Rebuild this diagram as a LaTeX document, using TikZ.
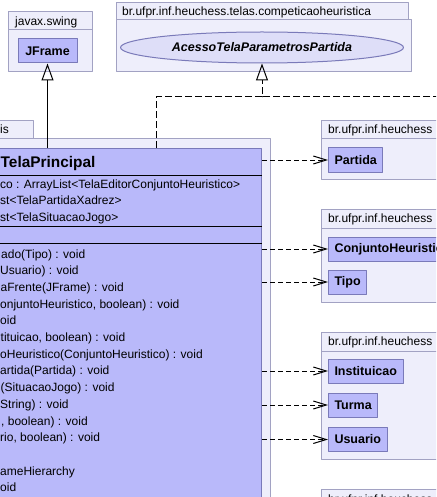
\documentclass[tikz,border=0pt]{standalone}
\usepackage{fontspec}
\setmainfont{Liberation Sans}
\usetikzlibrary{arrows.meta,shapes.geometric,positioning}
\definecolor{clsfill}{RGB}{185,185,250}
\definecolor{clsline}{RGB}{122,122,185}
\definecolor{pkgfill}{RGB}{238,238,251}
\definecolor{pkgline}{RGB}{162,162,195}
\definecolor{ifcfill}{RGB}{222,222,248}
\begin{document}
\begin{tikzpicture}[x=1pt, y=-1pt, line join=round, >={Straight Barb[length=13pt,width=8pt]},
    pkg/.style={draw=pkgline, fill=pkgfill, line width=1pt},
    pkgname/.style={anchor=base west, inner sep=0pt, font=\fontsize{12}{14}\selectfont},
    cls/.style={draw=clsline, fill=clsfill, line width=1pt, anchor=west, minimum height=24pt, inner xsep=6pt, font=\fontsize{12.5}{14}\selectfont\bfseries},
    membro/.style={anchor=base west, inner sep=0pt, font=\fontsize{12}{14}\selectfont},
    dep/.style={->, dash pattern=on 5pt off 3pt, line width=1pt},
    realiz/.style={-{Triangle[open,length=17pt,width=12pt]}, dash pattern=on 7pt off 3pt, line width=1pt},
    heranca/.style={-{Triangle[open,length=17pt,width=12pt]}, line width=1pt}]
    \useasboundingbox (0,0) rectangle (436,497);
    \clip (0,0) rectangle (436,497);
    \fill[white] (0,0) rectangle (436,497);
    % pacotes
    \draw[pkg] (8,12) rectangle (92,30) (8,30) rectangle (92,72);
    \node[pkgname] (swing) at (15,26) {javax.swing};
    \draw[pkg] (116,3) rectangle (408,20) (116,20) rectangle (411,72);
    \node[pkgname] (competicao) at (122,16) {br.ufpr.inf.heuchess.telas.competicaoheuristica};
    \draw[pkg] (-5,121) rectangle (33,139) (-5,139) rectangle (270,510);
    \node[pkgname] (principal) at (0,134) {is};
    \draw[pkg] (321,121) rectangle (445,139) (321,139) rectangle (445,179);
    \node[pkgname] (pkgpartida) at (328,134) {br.ufpr.inf.heuchess};
    \draw[pkg] (321,209) rectangle (445,228) (321,228) rectangle (445,302);
    \node[pkgname] (pkgheur) at (328,222) {br.ufpr.inf.heuchess};
    \draw[pkg] (321,332) rectangle (445,351) (321,351) rectangle (445,459);
    \node[pkgname] (pkgusu) at (328,345) {br.ufpr.inf.heuchess};
    \draw[pkg] (321,489) rectangle (445,507);
    \node[pkgname] (pkgmais) at (328,503) {br.ufpr.inf.heuchess};
    % classes
    \node[cls, anchor=center, minimum width=59pt] (jframe) at (47.5,51) {JFrame};
    \node[ellipse, draw=clsline, fill=ifcfill, line width=1pt, inner sep=0pt, minimum width=283pt, minimum height=31pt,
        font=\fontsize{12.5}{14}\selectfont\bfseries\itshape] (acesso) at (262,47.5) {AcessoTelaParametrosPartida};
    \node[cls] (partida) at (328,160) {Partida};
    \node[cls] (conjunto) at (328,249) {ConjuntoHeuristico};
    \node[cls] (tipo) at (328,282) {Tipo};
    \node[cls] (instituicao) at (328,371) {Instituicao};
    \node[cls] (turma) at (328,405) {Turma};
    \node[cls] (usuario) at (328,439.5) {Usuario};
    % TelaPrincipal
    \node[draw=clsline, fill=clsfill, line width=1pt, minimum width=272pt, minimum height=370pt, anchor=north east] (tela) at (262,148) {};
    \draw[line width=1pt] ([yshift=-27pt]tela.north west) -- ([yshift=-27pt]tela.north east)
        ([yshift=-78pt]tela.north west) -- ([yshift=-78pt]tela.north east)
        ([yshift=-95pt]tela.north west) -- ([yshift=-95pt]tela.north east);
    \node[membro, font=\fontsize{15.4}{17}\selectfont\bfseries] (nome) at (0.5,167.3) {TelaPrincipal};
    \node[membro] (at1) at (0,188.5) {co : ArrayList<TelaEditorConjuntoHeuristico>};
    \node[membro] (at2) at (0,204.7) {st<TelaPartidaXadrez>};
    \node[membro] (at3) at (0,221) {st<TelaSituacaoJogo>};
    \node[membro] (m1) at (1,258) {ado(Tipo) : void};
    \node[membro] (m2) at (0,274.7) {Usuario) : void};
    \node[membro] (m3) at (0.5,291.4) {aFrente(JFrame) : void};
    \node[membro] (m4) at (0,308.1) {onjuntoHeuristico, boolean) : void};
    \node[membro] (m5) at (0,324.8) {oid};
    \node[membro] (m6) at (0.5,341.5) {tituicao, boolean) : void};
    \node[membro] (m7) at (0,358.2) {oHeuristico(ConjuntoHeuristico) : void};
    \node[membro] (m8) at (0,374.9) {artida(Partida) : void};
    \node[membro] (m9) at (0.5,391.6) {(SituacaoJogo) : void};
    \node[membro] (m10) at (0,408.3) {String) : void};
    \node[membro] (m11) at (1,425) {, boolean) : void};
    \node[membro] (m12) at (0,441.7) {rio, boolean) : void};
    \node[membro] (m14) at (0,475.1) {ameHierarchy};
    \node[membro] (m15) at (0,491.8) {oid};
    % ligacoes
    \coordinate (saida) at (156,148);
    \coordinate (juncao) at (262,97);
    \coordinate (fora) at (440,97);
    \draw[heranca] (tela.north -| jframe.south) -- (jframe.south);
    \draw[realiz] (saida) |- (juncao) -- (acesso.south);
    \draw[dash pattern=on 7pt off 3pt, line width=1pt] (fora) -- (juncao);
    \draw[dep] (tela.east |- partida.west) -- (partida.west);
    \draw[dep] (tela.east |- conjunto.west) -- (conjunto.west);
    \draw[dep] (tela.east |- tipo.west) -- (tipo.west);
    \draw[dep] (tela.east |- instituicao.west) -- (instituicao.west);
    \draw[dep] (tela.east |- turma.west) -- (turma.west);
    \draw[dep] (tela.east |- usuario.west) -- (usuario.west);
\end{tikzpicture}
\end{document}
